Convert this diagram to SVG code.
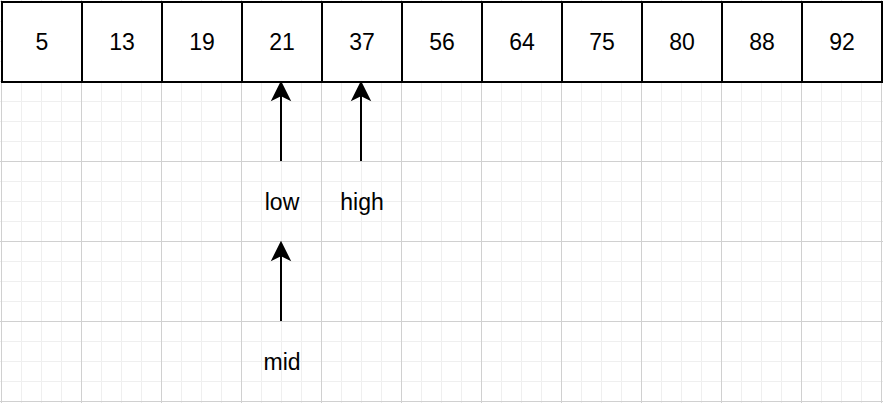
<svg xmlns="http://www.w3.org/2000/svg" width="883" height="403" viewBox="0 0 883 403">
<style>
.cell{fill:#ffffff;stroke:#000000;stroke-width:2}
.t{font-family:"Liberation Sans",Arial,Helvetica,sans-serif;font-size:23px;fill:#000000;text-anchor:middle}
.edge{stroke:#000000;stroke-width:2;fill:none}
.minor{stroke:#efefef;stroke-width:1}
.major{stroke:#d0d0d0;stroke-width:1}
</style>
<defs>
<pattern id="grid" patternUnits="userSpaceOnUse" x="1" y="1" width="80" height="80">
<path class="minor" d="M20.5,0V80M40.5,0V80M60.5,0V80M0,20.5H80M0,40.5H80M0,60.5H80"/>
<path class="major" d="M0.5,0V80M0,0.5H80"/>
</pattern>
<marker id="arrow" markerUnits="userSpaceOnUse" viewBox="-10 -10 20 20" markerWidth="20" markerHeight="20" refX="0" refY="0" orient="auto" overflow="visible">
<path d="M8,0 L-8,-8 L-4,0 L-8,8 Z" fill="#000000" stroke="#000000" stroke-width="2"/>
</marker>
</defs>
<rect x="0" y="0" width="883" height="403" fill="#ffffff"/>
<rect x="0" y="0" width="883" height="403" fill="url(#grid)"/>
<g id="cells">
<g id="c0"><rect class="cell" x="2" y="2" width="80" height="80"/><text class="t" x="42" y="50">5</text></g>
<g id="c1"><rect class="cell" x="82" y="2" width="80" height="80"/><text class="t" x="122" y="50">13</text></g>
<g id="c2"><rect class="cell" x="162" y="2" width="80" height="80"/><text class="t" x="202" y="50">19</text></g>
<g id="c3"><rect class="cell" x="242" y="2" width="80" height="80"/><text class="t" x="282" y="50">21</text></g>
<g id="c4"><rect class="cell" x="322" y="2" width="80" height="80"/><text class="t" x="362" y="50">37</text></g>
<g id="c5"><rect class="cell" x="402" y="2" width="80" height="80"/><text class="t" x="442" y="50">56</text></g>
<g id="c6"><rect class="cell" x="482" y="2" width="80" height="80"/><text class="t" x="522" y="50">64</text></g>
<g id="c7"><rect class="cell" x="562" y="2" width="80" height="80"/><text class="t" x="602" y="50">75</text></g>
<g id="c8"><rect class="cell" x="642" y="2" width="80" height="80"/><text class="t" x="682" y="50">80</text></g>
<g id="c9"><rect class="cell" x="722" y="2" width="80" height="80"/><text class="t" x="762" y="50">88</text></g>
<g id="c10"><rect class="cell" x="802" y="2" width="80" height="80"/><text class="t" x="842" y="50">92</text></g>
</g>
<g id="low"><text class="t" x="282" y="210">low</text></g>
<g id="high"><text class="t" x="362" y="210">high</text></g>
<g id="mid"><text class="t" x="282" y="370">mid</text></g>
<g id="connectors">
<path class="edge" d="M281,161V91" marker-end="url(#arrow)"/>
<path class="edge" d="M361,161V91" marker-end="url(#arrow)"/>
<path class="edge" d="M281,321V251" marker-end="url(#arrow)"/>
</g>
</svg>
